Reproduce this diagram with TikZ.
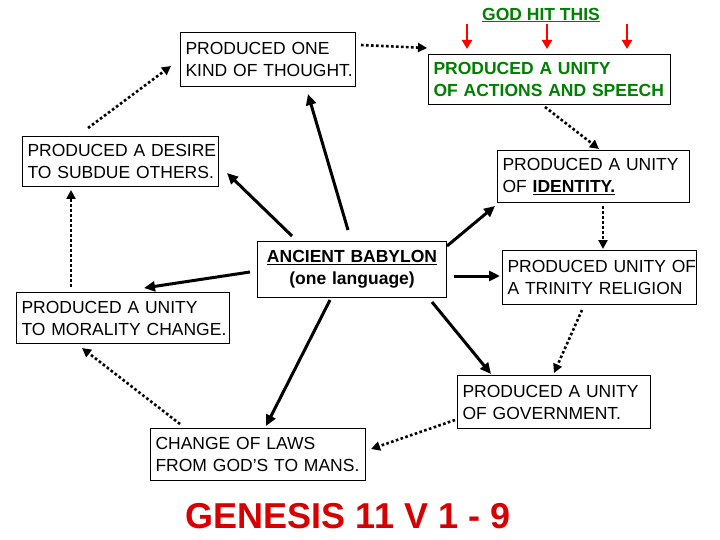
\documentclass[tikz,border=0pt]{standalone}
\usepackage{fontspec}
\setmainfont{Liberation Sans}
\usetikzlibrary{arrows.meta}
\definecolor{godgreen}{RGB}{0,128,0}
\definecolor{genred}{RGB}{215,0,0}
\tikzset{
  box/.style={draw=black, line width=1.1pt, anchor=north west, inner xsep=5pt, inner ysep=2pt,
    align=left, font=\fontsize{17.5}{22}\selectfont},
  solidarr/.style={line width=3pt, -{Triangle[length=11pt,width=10pt]}},
  dotarr/.style={line width=2.6pt, dash pattern=on 2.6pt off 2.4pt, -{Triangle[length=9pt,width=9pt]}},
  redarr/.style={draw=red, line width=2.6pt, -{Triangle[length=9pt,width=10pt]}},
}
\begin{document}
\begin{tikzpicture}[x=1pt,y=-1pt]
\useasboundingbox[fill=white] (0,0) rectangle (720,540);

% boxes
\node[box, minimum width=175pt, minimum height=54pt, text width=165pt] (thought) at (180,32) {\mbox{PRODUCED ONE}\\\mbox{KIND OF THOUGHT.}};
\node[box, minimum width=242pt, minimum height=50pt, text width=232pt, text=godgreen, font=\fontsize{17.5}{22}\selectfont\bfseries] (actions) at (428,54) {\mbox{PRODUCED A UNITY}\\\mbox{OF ACTIONS AND SPEECH}};
\node[box, minimum width=196pt, minimum height=50pt, text width=186pt] (desire) at (22,136) {\mbox{PRODUCED A DESIRE}\\\mbox{TO SUBDUE OTHERS.}};
\node[box, minimum width=192pt, minimum height=52pt, text width=182pt] (identity) at (497,150) {\mbox{PRODUCED A UNITY}\\\mbox{OF \textbf{\underline{IDENTITY.}}}};
\node[box, minimum width=189pt, minimum height=56pt, text width=179pt, align=center, font=\fontsize{17.5}{22}\selectfont\bfseries] (babylon) at (257,241) {\mbox{\underline{ANCIENT BABYLON}}\\\mbox{(one language)}};
\node[box, minimum width=194pt, minimum height=54pt, text width=184pt] (trinity) at (502,250) {\mbox{PRODUCED UNITY OF}\\\mbox{A TRINITY RELIGION}};
\node[box, minimum width=213pt, minimum height=51pt, text width=203pt] (morality) at (16,292) {\mbox{PRODUCED A UNITY}\\\mbox{TO MORALITY CHANGE.}};
\node[box, minimum width=193pt, minimum height=53pt, text width=183pt] (government) at (457,375) {\mbox{PRODUCED A UNITY}\\\mbox{OF GOVERNMENT.}};
\node[box, minimum width=215pt, minimum height=52pt, text width=205pt] (laws) at (150,428) {\mbox{CHANGE OF LAWS}\\\mbox{FROM GOD'S TO MANS.}};

% titles
\node[text=godgreen, font=\fontsize{17.5}{22}\selectfont\bfseries, inner sep=0pt] (god) at (541,15) {\underline{GOD HIT THIS}};
\node[text=genred, font=\fontsize{36}{40}\selectfont\bfseries, inner sep=0pt] (genesis) at (348,516) {GENESIS 11 V 1 - 9};

% red arrows
\coordinate (r1a) at (467,24); \coordinate (r1b) at (467,49);
\coordinate (r2a) at (547,24); \coordinate (r2b) at (547,49);
\coordinate (r3a) at (627,24); \coordinate (r3b) at (627,49);
\draw[redarr] (r1a) -- (r1b);
\draw[redarr] (r2a) -- (r2b);
\draw[redarr] (r3a) -- (r3b);

% solid arrows from Babylon
\coordinate (s1a) at (348,230); \coordinate (s1b) at (308,94);
\coordinate (s2a) at (292,236); \coordinate (s2b) at (227,173);
\coordinate (s3a) at (447,246); \coordinate (s3b) at (495,206);
\coordinate (s4a) at (454,276); \coordinate (s4b) at (500,276);
\coordinate (s5a) at (432,302); \coordinate (s5b) at (491,374);
\coordinate (s6a) at (330,300); \coordinate (s6b) at (266,426);
\coordinate (s7a) at (250,272); \coordinate (s7b) at (144,288);
\draw[solidarr] (s1a) -- (s1b);
\draw[solidarr] (s2a) -- (s2b);
\draw[solidarr] (s3a) -- (s3b);
\draw[solidarr] (s4a) -- (s4b);
\draw[solidarr] (s5a) -- (s5b);
\draw[solidarr] (s6a) -- (s6b);
\draw[solidarr] (s7a) -- (s7b);

% dotted cycle
\coordinate (d1a) at (361,45); \coordinate (d1b) at (427,48);
\coordinate (d2a) at (545,107); \coordinate (d2b) at (599,149);
\coordinate (d3a) at (603,206); \coordinate (d3b) at (603,249);
\coordinate (d4a) at (582,310); \coordinate (d4b) at (554,373);
\coordinate (d5a) at (455,420); \coordinate (d5b) at (371,449);
\coordinate (d6a) at (180,424); \coordinate (d6b) at (82,348);
\coordinate (d7a) at (71,287); \coordinate (d7b) at (71,190);
\coordinate (d8a) at (88,128); \coordinate (d8b) at (171,66);
\draw[dotarr] (d1a) -- (d1b);
\draw[dotarr] (d2a) -- (d2b);
\draw[dotarr] (d3a) -- (d3b);
\draw[dotarr] (d4a) -- (d4b);
\draw[dotarr] (d5a) -- (d5b);
\draw[dotarr] (d6a) -- (d6b);
\draw[dotarr] (d7a) -- (d7b);
\draw[dotarr] (d8a) -- (d8b);
\end{tikzpicture}
\end{document}
